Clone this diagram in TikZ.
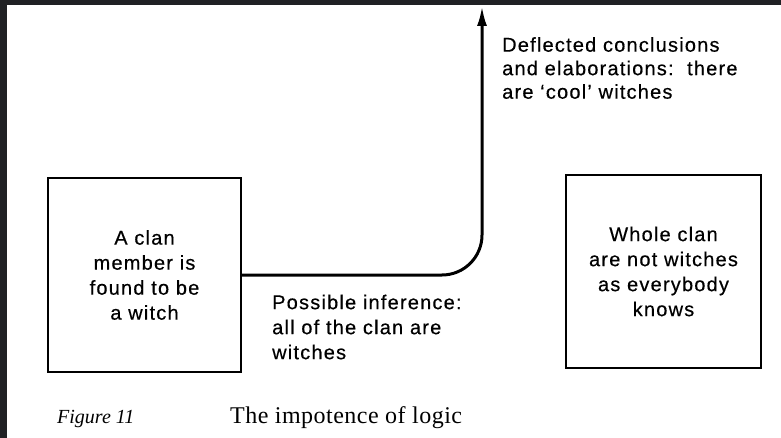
\documentclass[tikz,border=0pt]{standalone}
\usepackage{fontspec}
\newfontfamily\lblfont[LetterSpace=6,FakeBold=0.4]{Liberation Sans}
\newfontfamily\capfont[LetterSpace=2]{Liberation Serif}
\newfontfamily\figfont{Liberation Serif}
\usetikzlibrary{arrows.meta}
\definecolor{framecol}{HTML}{202124}
\tikzset{
  box/.style={draw, line width=1.4pt, minimum width=193pt, minimum height=194pt,
    align=center, inner sep=0pt, font=\lblfont\fontsize{20}{25}\selectfont},
  lbl/.style={align=left, inner sep=0pt, anchor=north west},
  flow/.style={line width=3pt, rounded corners=40pt, -{Latex[length=20pt,width=10pt]}},
}
\begin{document}
\begin{tikzpicture}[x=1pt,y=-1pt]
\useasboundingbox (0,0) rectangle (781,438);
\fill[framecol] (0,0) rectangle (781,438);
\fill[white] (7,5) rectangle (781,438);
\node[box] (clan) at (144.5,275) {A clan\\member is\\found to be\\a witch};
\node[box, minimum width=195pt, minimum height=193pt] (whole) at (663.5,271.5) {Whole clan\\are not witches\\as everybody\\knows};
\coordinate (top) at (482,6);
\draw[flow] (clan.east) -| (top);
\node[lbl, font=\lblfont\fontsize{20}{23.5}\selectfont] (defl) at (502,37) {Deflected conclusions\\and elaborations:~~there\\are ‘cool’ witches};
\node[lbl, font=\lblfont\fontsize{20}{25}\selectfont] (inf) at (272,294.5) {Possible inference:\\all of the clan are\\witches};
\node[anchor=base west, inner sep=0pt, font=\figfont\itshape\fontsize{20}{24}\selectfont] (fig) at (57,423) {Figure 11};
\node[anchor=base west, inner sep=0pt, font=\capfont\fontsize{24}{28}\selectfont] (cap) at (230,423) {The impotence of logic};
\end{tikzpicture}
\end{document}
